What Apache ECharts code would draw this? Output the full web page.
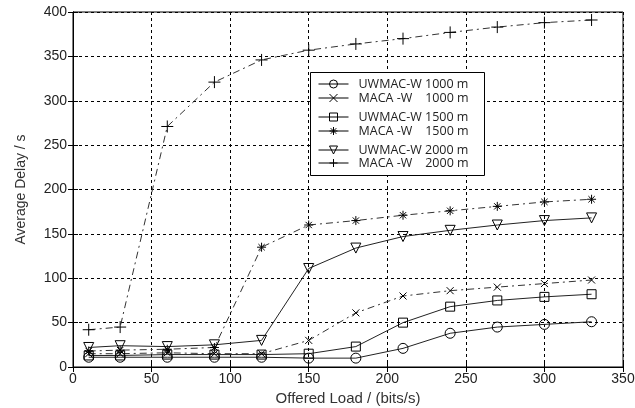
<!DOCTYPE html>
<html><head><meta charset="utf-8">
<script src="https://cdn.jsdelivr.net/npm/echarts@6/dist/echarts.min.js"></script>
<style>html,body{margin:0;padding:0;background:#fff}#c{width:635px;height:408px}</style>
</head><body><div id="c"></div>
<script>
const offeredLoad = [10, 30, 60, 90, 120, 150, 180, 210, 240, 270, 300, 330];
const uwmac1000 = [11, 11, 11, 11, 11, 10, 10, 21, 38, 45, 48, 51];
const maca1000  = [15, 15, 16, 15, 15, 30, 61, 80, 86, 90, 94, 98];
const uwmac1500 = [13, 13, 14, 14, 14, 15, 23, 50, 68, 75, 79, 82];
const maca1500  = [18, 19, 20, 22, 135, 160, 165, 171, 176, 181, 186, 189];
const uwmac2000 = [22, 24, 23, 25, 30, 111, 134, 147, 154, 160, 165, 168];
const maca2000  = [42, 45, 271, 321, 346, 357, 364, 370, 377, 383, 388, 391];
const seriesNames = ['UWMAC-W 1000 m', 'MACA -W    1000 m', 'UWMAC-W 1500 m', 'MACA -W    1500 m', 'UWMAC-W 2000 m', 'MACA -W    2000 m'];
const xTicks = [0, 50, 100, 150, 200, 250, 300, 350];
const yTicks = [0, 50, 100, 150, 200, 250, 300, 350, 400];

const sym = {
  circle: 'path://M10,5A5,5,0,1,1,0,5A5,5,0,1,1,10,5Z',
  cross: 'path://M0,0L10,10M10,0L0,10',
  square: 'path://M0,0L10,0L10,10L0,10Z',
  star: 'path://M5,0L5,10M0,5L10,5M1.5,1.5L8.5,8.5M8.5,1.5L1.5,8.5',
  tri: 'path://M0,0L10,0L5,9Z',
  plus: 'path://M5,0L5,10M0,5L10,5'
};
const dashDot = [7, 4, 2, 4];
function mk(name, vals, symbol, size, dashed) {
  return {
    name: name, type: 'line', data: offeredLoad.map((x, i) => [x, vals[i]]),
    symbol: symbol, symbolSize: size, showSymbol: true,
    itemStyle: { color: 'rgba(0,0,0,0)', borderColor: '#000', borderWidth: 1 },
    lineStyle: { color: dashed ? '#333' : '#222', width: 1, type: dashed ? dashDot : 'solid' },
    animation: false, z: 2
  };
}
const series = [
  mk(seriesNames[0], uwmac1000, sym.circle, 10, false),
  mk(seriesNames[1], maca1000, sym.cross, 7, true),
  mk(seriesNames[2], uwmac1500, sym.square, 9, false),
  mk(seriesNames[3], maca1500, sym.star, 9, true),
  mk(seriesNames[4], uwmac2000, sym.tri, 10, false),
  mk(seriesNames[5], maca2000, sym.plus, 12, true)
];
const legendTops = [77, 91, 110, 124, 143, 156];
function leg(name, top) {
  return {
    data: [name], orient: 'vertical', left: 318, top: top, padding: 0,
    itemWidth: 30, itemHeight: 10, itemGap: 0, z: 10,
    itemStyle: { color: 'rgba(0,0,0,0)', borderColor: '#000', borderWidth: 1 },
    lineStyle: { color: '#000', width: 1, type: 'solid' },
    textStyle: { fontFamily: 'Open Sans', fontSize: 12.5, color: '#222', lineHeight: 14, padding: [0, 0, 0, 5] },
    selectedMode: false
  };
}
const axisCommon = {
  type: 'value', min: 0,
  axisLine: { show: true, lineStyle: { color: '#000', width: 1 } },
  axisTick: { show: true, inside: true, length: 5, lineStyle: { color: '#000' } },
  splitLine: { show: false }
};
const chart = echarts.init(document.getElementById('c'), null, { renderer: 'canvas' });
chart.setOption({
  backgroundColor: '#fff',
  animation: false,
  grid: { left: 73, right: 12, top: 12, bottom: 41, containLabel: false, outerBoundsMode: 'none', show: true, borderColor: '#000', borderWidth: 1 },
  xAxis: [
    Object.assign({}, axisCommon, {
      max: xTicks[xTicks.length - 1], interval: 50, position: 'bottom',
      name: 'Offered Load / (bits/s)', nameLocation: 'middle', nameGap: 23,
      nameTextStyle: { fontFamily: 'Liberation Sans', fontSize: 15, color: '#333' },
      axisLabel: { fontFamily: 'Liberation Sans', fontSize: 14, color: '#222', margin: 5 },
      splitLine: { show: true, lineStyle: { color: '#000', type: [3, 3], width: 1 } }
    }),
    Object.assign({}, axisCommon, { max: xTicks[xTicks.length - 1], interval: 50, position: 'top', axisLabel: { show: false } })
  ],
  yAxis: [
    Object.assign({}, axisCommon, {
      max: yTicks[yTicks.length - 1], interval: 50, position: 'left',
      name: 'Average Delay / s', nameLocation: 'middle', nameGap: 45,
      nameTextStyle: { fontFamily: 'Liberation Sans', fontSize: 14, color: '#333' },
      axisLabel: { fontFamily: 'Liberation Sans', fontSize: 14, color: '#222', margin: 6 },
      splitLine: { show: true, lineStyle: { color: '#000', type: [3, 3], width: 1 } }
    }),
    Object.assign({}, axisCommon, { max: yTicks[yTicks.length - 1], interval: 50, position: 'right', axisLabel: { show: false } })
  ],
  legend: seriesNames.map((n, i) => leg(n, legendTops[i])),
  graphic: [{
    type: 'rect', z: 5, shape: { x: 310.5, y: 72.5, width: 174, height: 103 },
    style: { fill: '#fff', stroke: '#000', lineWidth: 1 }
  }],
  series: series
});
</script></body></html>
